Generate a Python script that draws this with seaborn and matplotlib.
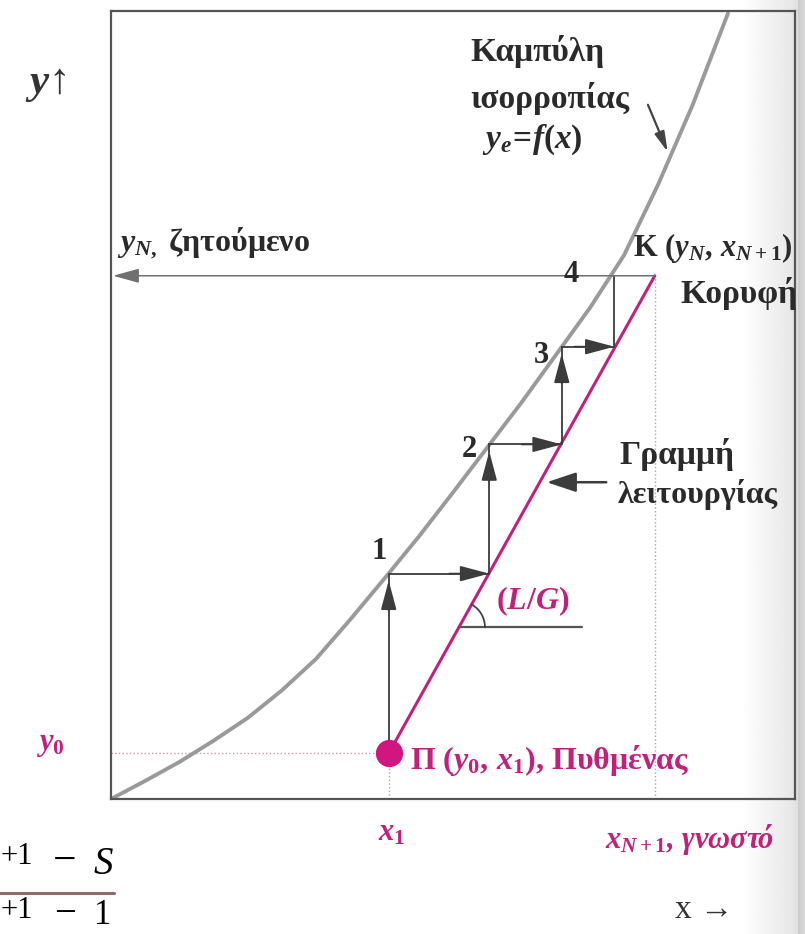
import numpy as np
import matplotlib
matplotlib.use("Agg")
import matplotlib.pyplot as plt
from matplotlib.lines import Line2D
import seaborn as sns

# equilibrium curve y_e = f(x) (frame = 0..1 on both axes)
eq_x = [0.0, 0.05, 0.10, 0.15, 0.20, 0.25, 0.30, 0.35, 0.40, 0.45,
        0.50, 0.55, 0.60, 0.65, 0.70, 0.75, 0.80, 0.85, 0.902]
eq_y = [0.0, 0.023, 0.047, 0.074, 0.103, 0.138, 0.178, 0.228, 0.280, 0.333,
        0.389, 0.446, 0.503, 0.563, 0.623, 0.690, 0.780, 0.880, 0.997]

# operating line: bottom Π (x1, y0) -> top K (x_N+1, y_N)
op_x = [0.406, 0.795]
op_y = [0.058, 0.664]

# stages (vertical step positions and tray levels)
stage_x = [0.406, 0.553, 0.659, 0.736]
stage_y = [0.286, 0.450, 0.574, 0.664]
stage_labels = ['1', '2', '3', '4']

# slope marker level
slope_y = 0.218
slope_end_x = 0.689

PINK = '#c2207a'
LINE = '#9a9a9a'
DARK = '#3c3c3c'
TXT = '#2a2a2a'

sns.set_style('white')
plt.rcParams['font.family'] = ['Liberation Serif', 'DejaVu Serif']
plt.rcParams['mathtext.fontset'] = 'custom'
plt.rcParams['mathtext.rm'] = 'Liberation Serif:bold'
plt.rcParams['mathtext.it'] = 'Liberation Serif:italic:bold'
plt.rcParams['mathtext.bf'] = 'Liberation Serif:bold'

fig = plt.figure(figsize=(8.05, 9.34), dpi=100)

# scanned page shading on the right edge
bg = fig.add_axes([0, 0, 1, 1], zorder=-10)
px = np.arange(805)
shade = np.interp(px, [0, 740, 790, 796, 797, 805], [1.0, 1.0, 0.91, 0.88, 0.80, 0.86])
bg.imshow(np.tile(shade, (10, 1)), cmap='gray', vmin=0, vmax=1, aspect='auto',
          extent=[0, 1, 0, 1])
bg.set_axis_off()

ax = fig.add_axes([111 / 805, 135 / 934, 684 / 805, 788 / 934])
ax.set_facecolor('none')
ax.set_xlim(0, 1)
ax.set_ylim(0, 1)
ax.set_xticks([])
ax.set_yticks([])
for s in ax.spines.values():
    s.set_color('#555555')
    s.set_linewidth(1.6)

# dotted guides
ax.plot([op_x[0], op_x[0]], [0, op_y[0]], ls=':', color='#c894b0', lw=1)
ax.plot([op_x[1], op_x[1]], [0, op_y[1]], ls=':', color='#c894b0', lw=1)
ax.plot([0, op_x[0]], [op_y[0], op_y[0]], ls=':', color='#c894b0', lw=1)

# equilibrium curve and operating line
sns.lineplot(x=eq_x, y=eq_y, ax=ax, color=LINE, lw=2.8, sort=False, estimator=None)
sns.lineplot(x=op_x, y=op_y, ax=ax, color=PINK, lw=2.2, sort=False, estimator=None)
sns.scatterplot(x=[op_x[0]], y=[op_y[0]], ax=ax, s=330, color='#d2157f',
                edgecolor='#d2157f', zorder=5)

# top line to the y axis (y_N)
ax.annotate('', xy=(0.003, op_y[1]), xytext=(op_x[1], op_y[1]),
            arrowprops=dict(arrowstyle='-|>,head_length=0.8,head_width=0.22',
                            mutation_scale=20, color='#707070', lw=1.1,
                            shrinkA=0, shrinkB=0))

# staircase
hx = 1 / 684
hy = 1 / 788
offs = [(-7, 16), (-14, -4), (-15, -6), (-31, 1)]
prev = op_y[0]
for i in range(len(stage_x)):
    ax.plot([stage_x[i], stage_x[i]], [prev, stage_y[i]], color=DARK, lw=1.3)
    if i < 3:
        tip = stage_y[i] - 7 * hy
        ax.annotate('', xy=(stage_x[i], tip), xytext=(stage_x[i], tip - 30 * hy),
                    arrowprops=dict(arrowstyle='-|>,head_length=0.9,head_width=0.24',
                                    mutation_scale=20, color=DARK, lw=1.3,
                                    shrinkA=0, shrinkB=0))
        ax.plot([stage_x[i], stage_x[i + 1]], [stage_y[i], stage_y[i]], color=DARK, lw=1.3)
        ax.annotate('', xy=(stage_x[i + 1], stage_y[i]),
                    xytext=(stage_x[i + 1] - 40 * hx, stage_y[i]),
                    arrowprops=dict(arrowstyle='-|>,head_length=0.9,head_width=0.24',
                                    mutation_scale=20, color=DARK, lw=1.3,
                                    shrinkA=0, shrinkB=0))
    ax.annotate(stage_labels[i], xy=(stage_x[i], stage_y[i]), xytext=offs[i],
                textcoords='offset points', ha='center', va='center',
                fontsize=22, fontweight='bold', color=TXT)
    prev = stage_y[i]

# slope marker (L/G)
sx = op_x[0] + (slope_y - op_y[0]) * (op_x[1] - op_x[0]) / (op_y[1] - op_y[0])
ax.plot([sx, slope_end_x], [slope_y, slope_y], color='#555555', lw=1.6)
ang = np.degrees(np.arctan2((op_y[1] - op_y[0]) * 788, (op_x[1] - op_x[0]) * 684))
t = np.radians(np.linspace(0, ang, 30))
ax.plot(sx + 26 * hx * np.cos(t), slope_y + 26 * hy * np.sin(t), color='#444444', lw=1.3)
ax.text(0.617, 0.251, '$(L/G)$', color=PINK, fontsize=23, ha='center', va='center')

# equilibrium curve label
ax.text(0.525, 0.948, 'Καμπύλη', fontsize=24, fontweight='bold', color=TXT,
        ha='left', va='center')
ax.text(0.525, 0.889, 'ισορροπίας', fontsize=24, fontweight='bold', color=TXT,
        ha='left', va='center')
ax.text(0.542, 0.836, '$y_e\\!=\\!f(x)$', fontsize=24, color=TXT,
        ha='left', va='center')
ax.annotate('', xy=(0.814, 0.821), xytext=(0.785, 0.881),
            arrowprops=dict(arrowstyle='-|>,head_length=0.6,head_width=0.15',
                            mutation_scale=20, color='#444444', lw=1.6,
                            shrinkA=0, shrinkB=0))

ax.text(0.009, 0.706, '$y_{N,}$ ζητούμενο', fontsize=23, fontweight='bold',
        color=TXT, ha='left', va='center')
ax.text(0.763, 0.699, 'K $(y_{N},\\, x_{N+1})$', fontsize=22, fontweight='bold',
        color=TXT, ha='left', va='center')
ax.text(0.832, 0.641, 'Κορυφή', fontsize=24, fontweight='bold', color=TXT,
        ha='left', va='center')

ax.text(0.743, 0.437, 'Γραμμή', fontsize=24, fontweight='bold', color=TXT,
        ha='left', va='center')
ax.text(0.740, 0.386, 'λειτουργίας', fontsize=23, fontweight='bold', color=TXT,
        ha='left', va='center')
ax.annotate('', xy=(0.637, 0.402), xytext=(0.724, 0.402),
            arrowprops=dict(arrowstyle='-|>,head_length=0.9,head_width=0.3',
                            mutation_scale=20, color=DARK, lw=1.8,
                            shrinkA=0, shrinkB=0))

ax.text(0.437, 0.049, 'Π $(y_{0},\\, x_{1})$, Πυθμένας', fontsize=23, fontweight='bold',
        color=PINK, ha='left', va='center')

# axis labels outside the frame
ax.text(-0.089, 0.069, '$y_0$', fontsize=22, color=PINK, ha='center', va='center')
ax.text(0.411, -0.043, '$x_1$', fontsize=22, color=PINK, ha='center', va='center')
ax.text(0.722, -0.052, '$x_{N+1}$, γνωστό', fontsize=22, color=PINK, style='italic',
        fontweight='bold', ha='left', va='center')
ax.text(0.867, -0.141, 'x →', fontsize=24, color='#333333', ha='center', va='center')
ax.text(-0.096, 0.906, '$y$↑', fontsize=31, color='#333333', ha='center', va='center')

# cropped fraction fragment in the lower-left corner
fig.text(0 / 805, 1 - 856 / 934, '+1', fontsize=22, color='black', ha='left', va='center')
fig.text(65 / 805, 1 - 862 / 934, '−', fontsize=30, color='black', ha='center', va='center')
fig.text(94 / 805, 1 - 864 / 934, 'S', fontsize=28, style='italic', color='black',
         ha='left', va='center')
fig.add_artist(Line2D([0, 114 / 805], [1 - 893 / 934, 1 - 893 / 934],
                      color='#8c6c68', lw=2.2))
fig.text(0 / 805, 1 - 910 / 934, '+1', fontsize=22, color='black', ha='left', va='center')
fig.text(65 / 805, 1 - 914 / 934, '−', fontsize=28, color='black', ha='center', va='center')
fig.text(94 / 805, 1 - 915 / 934, '1', fontsize=25, color='black', ha='left', va='center')

fig.savefig('out.png', dpi=100)
